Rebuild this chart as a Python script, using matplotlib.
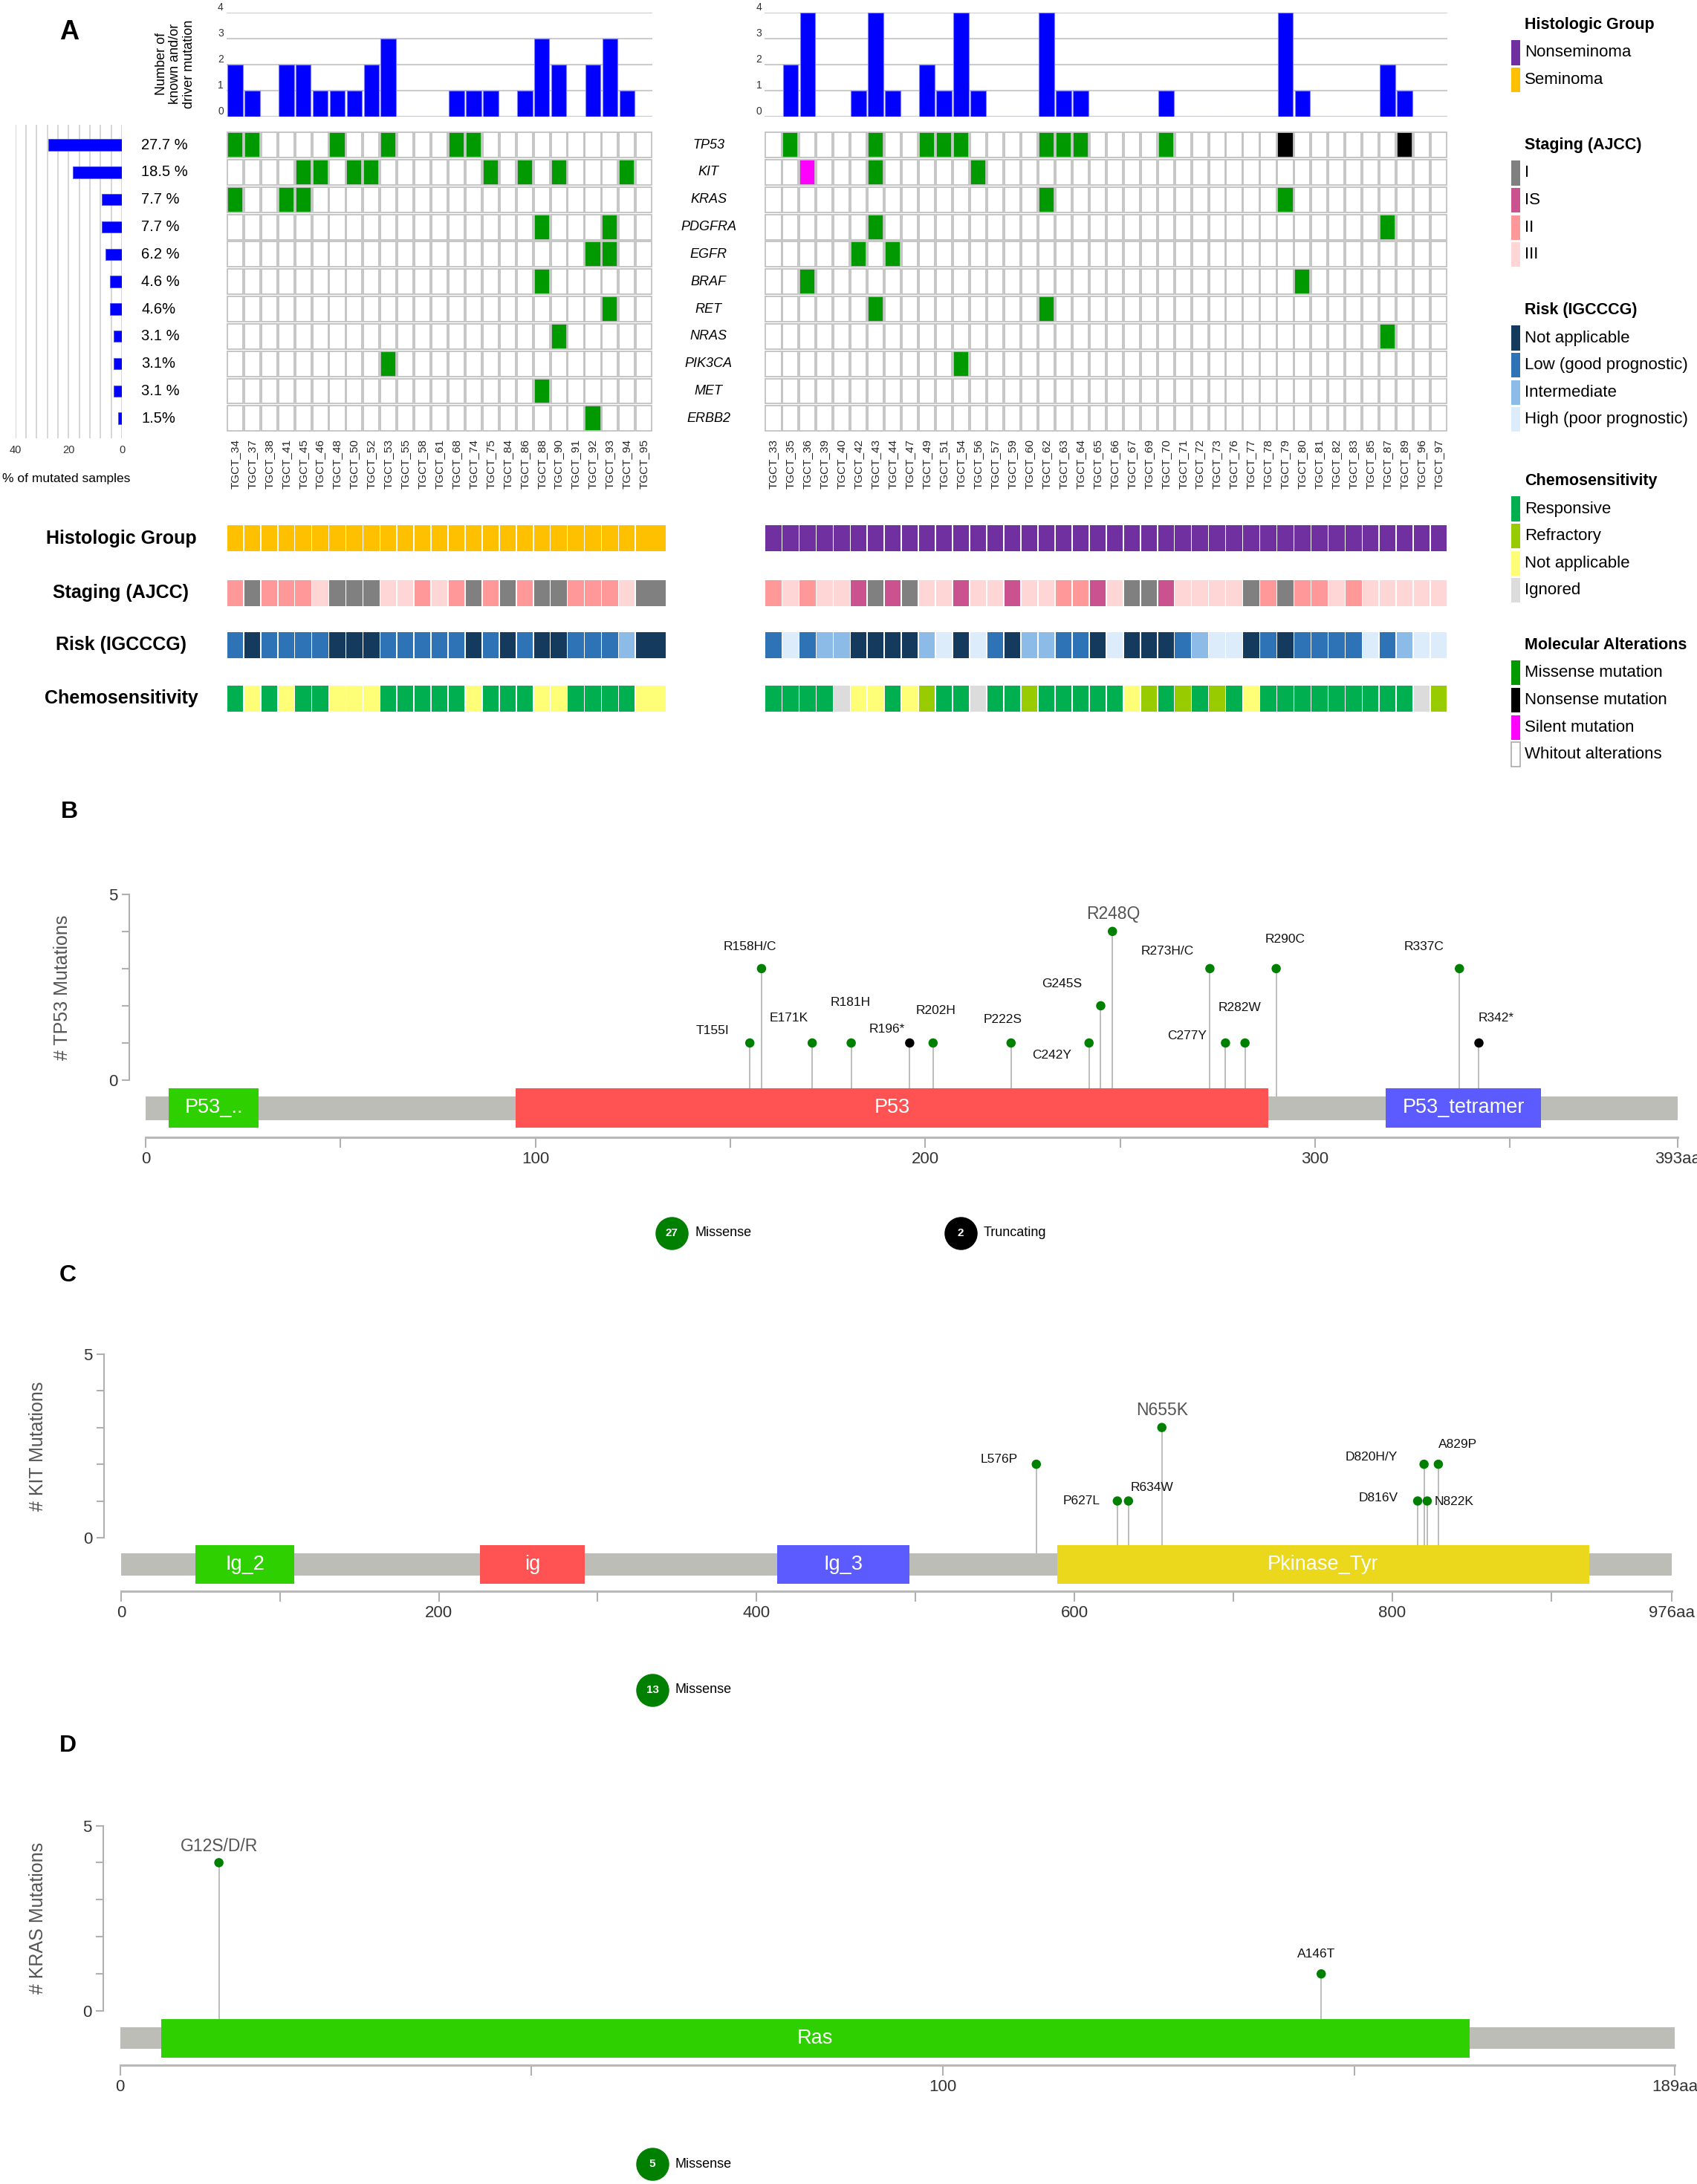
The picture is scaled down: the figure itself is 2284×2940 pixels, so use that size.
import numpy as np
import matplotlib
matplotlib.use("Agg")
import matplotlib.pyplot as plt
from matplotlib.patches import Rectangle
from matplotlib.lines import Line2D

plt.rcParams['font.family'] = ['Liberation Sans', 'DejaVu Sans']

# ============================ DATA ============================
seminoma_samples = ["TGCT_34", "TGCT_37", "TGCT_38", "TGCT_41", "TGCT_45", "TGCT_46", "TGCT_48",
                    "TGCT_50", "TGCT_52", "TGCT_53", "TGCT_55", "TGCT_58", "TGCT_61", "TGCT_68",
                    "TGCT_74", "TGCT_75", "TGCT_84", "TGCT_86", "TGCT_88", "TGCT_90", "TGCT_91",
                    "TGCT_92", "TGCT_93", "TGCT_94", "TGCT_95"]
nonseminoma_samples = ["TGCT_33", "TGCT_35", "TGCT_36", "TGCT_39", "TGCT_40", "TGCT_42", "TGCT_43",
                       "TGCT_44", "TGCT_47", "TGCT_49", "TGCT_51", "TGCT_54", "TGCT_56", "TGCT_57",
                       "TGCT_59", "TGCT_60", "TGCT_62", "TGCT_63", "TGCT_64", "TGCT_65", "TGCT_66",
                       "TGCT_67", "TGCT_69", "TGCT_70", "TGCT_71", "TGCT_72", "TGCT_73", "TGCT_76",
                       "TGCT_77", "TGCT_78", "TGCT_79", "TGCT_80", "TGCT_81", "TGCT_82", "TGCT_83",
                       "TGCT_85", "TGCT_87", "TGCT_89", "TGCT_96", "TGCT_97"]
genes = ["TP53", "KIT", "KRAS", "PDGFRA", "EGFR", "BRAF", "RET", "NRAS", "PIK3CA", "MET", "ERBB2"]
pct_mutated = [27.7, 18.5, 7.7, 7.7, 6.2, 4.6, 4.6, 3.1, 3.1, 3.1, 1.5]
pct_labels = ["27.7 %", "18.5 %", "7.7 %", "7.7 %", "6.2 %", "4.6 %", "4.6%", "3.1 %", "3.1%", "3.1 %", "1.5%"]

driver_counts_seminoma = [2, 1, 0, 2, 2, 1, 1, 1, 2, 3, 0, 0, 0, 1, 1, 1, 0, 1, 3, 2, 0, 2, 3, 1, 0]
driver_counts_nonseminoma = [0, 2, 4, 0, 0, 1, 4, 1, 0, 2, 1, 4, 1, 0, 0, 0, 4, 1, 1, 0,
                             0, 0, 0, 1, 0, 0, 0, 0, 0, 0, 4, 1, 0, 0, 0, 0, 2, 1, 0, 0]

missense_by_gene = {
    "TP53": ["TGCT_34", "TGCT_37", "TGCT_48", "TGCT_53", "TGCT_68", "TGCT_74", "TGCT_35", "TGCT_43",
             "TGCT_49", "TGCT_51", "TGCT_54", "TGCT_62", "TGCT_63", "TGCT_64", "TGCT_70"],
    "KIT": ["TGCT_45", "TGCT_46", "TGCT_50", "TGCT_52", "TGCT_75", "TGCT_86", "TGCT_90", "TGCT_94",
            "TGCT_43", "TGCT_56"],
    "KRAS": ["TGCT_34", "TGCT_41", "TGCT_45", "TGCT_62", "TGCT_79"],
    "PDGFRA": ["TGCT_88", "TGCT_93", "TGCT_43", "TGCT_87"],
    "EGFR": ["TGCT_92", "TGCT_93", "TGCT_42", "TGCT_44"],
    "BRAF": ["TGCT_88", "TGCT_36", "TGCT_80"],
    "RET": ["TGCT_93", "TGCT_43", "TGCT_62"],
    "NRAS": ["TGCT_90", "TGCT_87"],
    "PIK3CA": ["TGCT_53", "TGCT_54"],
    "MET": ["TGCT_88"],
    "ERBB2": ["TGCT_92"],
}
nonsense_by_gene = {"TP53": ["TGCT_79", "TGCT_89"]}
silent_by_gene = {"KIT": ["TGCT_36"]}

histology_seminoma = ["Seminoma"] * 25
histology_nonseminoma = ["Nonseminoma"] * 40
staging_seminoma = ["II", "I", "II", "II", "II", "III", "I", "I", "I", "III", "III", "II", "III",
                    "II", "I", "II", "I", "II", "I", "I", "II", "II", "II", "III", "I"]
staging_nonseminoma = ["II", "III", "II", "III", "III", "IS", "I", "IS", "I", "III",
                       "III", "IS", "III", "III", "IS", "III", "III", "II", "II", "IS",
                       "III", "I", "I", "IS", "III", "III", "III", "III", "I", "II",
                       "I", "II", "II", "III", "II", "III", "III", "III", "III", "III"]
risk_seminoma = ["Low", "NA", "Low", "Low", "Low", "Low", "NA", "NA", "NA", "Low", "Low", "Low", "Low",
                 "Low", "NA", "Low", "NA", "Low", "NA", "NA", "Low", "Low", "Low", "Int", "NA"]
risk_nonseminoma = ["Low", "High", "Low", "Int", "Int", "NA", "NA", "NA", "NA", "Int",
                    "High", "NA", "High", "Low", "NA", "Int", "Int", "Low", "Low", "NA",
                    "High", "NA", "NA", "NA", "Low", "Int", "High", "High", "NA", "Low",
                    "NA", "Low", "Low", "Low", "Low", "High", "Low", "Int", "High", "High"]
chemo_seminoma = ["Resp", "NA", "Resp", "NA", "Resp", "Resp", "NA", "NA", "NA", "Resp", "Resp", "Resp",
                  "Resp", "Resp", "NA", "Resp", "Resp", "Resp", "NA", "NA", "Resp", "Resp", "Resp",
                  "Resp", "NA"]
chemo_nonseminoma = ["Resp", "Resp", "Resp", "Resp", "Ign", "NA", "NA", "Resp", "NA", "Refr",
                     "Resp", "Resp", "Ign", "Resp", "Resp", "Refr", "Resp", "Resp", "Resp", "Resp",
                     "Resp", "NA", "Refr", "Resp", "Refr", "Resp", "Refr", "Resp", "NA", "Resp",
                     "Resp", "Resp", "Resp", "Resp", "Resp", "Resp", "Resp", "Resp", "Ign", "Refr"]

tp53_positions = [155, 158, 171, 181, 196, 202, 222, 242, 245, 248, 273, 277, 282, 290, 337, 342]
tp53_counts = [1, 3, 1, 1, 1, 1, 1, 1, 2, 4, 3, 1, 1, 3, 3, 1]
tp53_labels = ["T155I", "R158H/C", "E171K", "R181H", "R196*", "R202H", "P222S", "C242Y", "G245S",
               "R248Q", "R273H/C", "C277Y", "R282W", "R290C", "R337C", "R342*"]
tp53_types = ["Missense"] * 4 + ["Truncating"] + ["Missense"] * 10 + ["Truncating"]
tp53_domains = [("P53_..", 6, 29), ("P53", 95, 288), ("P53_tetramer", 318, 358)]
tp53_length = 393
tp53_legend = [("Missense", 27), ("Truncating", 2)]

kit_positions = [576, 627, 634, 655, 816, 820, 822, 829]
kit_counts = [2, 1, 1, 3, 1, 2, 1, 2]
kit_labels = ["L576P", "P627L", "R634W", "N655K", "D816V", "D820H/Y", "N822K", "A829P"]
kit_types = ["Missense"] * 8
kit_domains = [("Ig_2", 47, 109), ("ig", 226, 292), ("Ig_3", 413, 496), ("Pkinase_Tyr", 589, 924)]
kit_length = 976
kit_legend = [("Missense", 13)]

kras_positions = [12, 146]
kras_counts = [4, 1]
kras_labels = ["G12S/D/R", "A146T"]
kras_types = ["Missense", "Missense"]
kras_domains = [("Ras", 5, 164)]
kras_length = 189
kras_legend = [("Missense", 5)]

# ============================ STYLE ============================
HIST_COLORS = {"Nonseminoma": "#7030a0", "Seminoma": "#ffc000"}
STAGE_COLORS = {"I": "#808080", "IS": "#c9528f", "II": "#ff9999", "III": "#ffd6d6"}
RISK_COLORS = {"NA": "#143a5e", "Low": "#2e73b5", "Int": "#8dbbe7", "High": "#ddecfb"}
CHEMO_COLORS = {"Resp": "#00b050", "Refr": "#99cc00", "NA": "#ffff77", "Ign": "#dcdcdc"}
ALT_COLORS = {"Missense": "#009900", "Nonsense": "#000000", "Silent": "#ff00ff", "None": "#ffffff"}
TYPE_COLORS = {"Missense": "#008000", "Truncating": "#000000"}
DOMAIN_COLORS = {"P53_..": "#2ed000", "P53": "#ff5353", "P53_tetramer": "#5b5bff",
                 "Ig_2": "#2ed000", "ig": "#ff5353", "Ig_3": "#5b5bff", "Pkinase_Tyr": "#ebd81c",
                 "Ras": "#2ed000"}
GRID_GRAY = "#c2c2c2"
BAR_BLUE = "#0000ff"

FW, FH = 2284, 2940
S = 2284 / 1220.0

fig = plt.figure(figsize=(22.84, 29.40), dpi=100)


def fbox(x0, y0, x1, y1):
    return [x0 * S / FW, 1 - y1 * S / FH, (x1 - x0) * S / FW, (y1 - y0) * S / FH]


def fpt(x, y):
    return (x * S / FW, 1 - y * S / FH)


def ppt(x, y):
    return (x / FW, 1 - y / FH)


# ============================ PANEL A ============================
fig.text(*fpt(50, 23), "A", fontsize=26, fontweight='bold', ha='center', va='center')
fig.text(*fpt(126, 46), "Number of\nknown and/or\ndriver mutation", rotation=90, ha='center',
         va='center', fontsize=13, linespacing=1.12, multialignment='center')

GRID_TOP, GRID_BOT = 94.4, 310.7
groups = [
    (seminoma_samples, driver_counts_seminoma, 162.9, 469.1, 25.81,
     [histology_seminoma, staging_seminoma, risk_seminoma, chemo_seminoma]),
    (nonseminoma_samples, driver_counts_nonseminoma, 549.9, 1040.6, 40.0,
     [histology_nonseminoma, staging_nonseminoma, risk_nonseminoma, chemo_nonseminoma]),
]
track_names = ["Histologic Group", "Staging (AJCC)", "Risk (IGCCCG)", "Chemosensitivity"]
track_colors = [HIST_COLORS, STAGE_COLORS, RISK_COLORS, CHEMO_COLORS]
track_rows = [(377.8, 396.2), (417.2, 435.7), (454.6, 473.1), (493.0, 511.6)]

left_grid_ax = None
for gi, (samples, drivers, x0, x1, ann_units, tracks) in enumerate(groups):
    n = len(samples)
    cw = (x1 - x0) / n
    # top bars
    axb = fig.add_axes(fbox(x0, 9.3, x1, 84.0))
    axb.bar(np.arange(n) + 0.5, drivers, width=0.9, color=BAR_BLUE, edgecolor='#8080ff', lw=0.8, zorder=3)
    axb.set_xlim(0, n)
    axb.set_ylim(0, 4)
    axb.set_yticks(range(5))
    axb.yaxis.grid(True, color='#cccccc', lw=1.5)
    axb.set_axisbelow(True)
    axb.set_xticks([])
    for s in axb.spines.values():
        s.set_visible(False)
    axb.tick_params(axis='y', length=0, labelsize=10, labelcolor='#333333', pad=3)
    plt.setp(axb.get_yticklabels(), va='bottom')

    # mutation grid
    ax = fig.add_axes(fbox(x0, GRID_TOP, x1, GRID_BOT))
    ax.set_xlim(0, n)
    ax.set_ylim(len(genes), 0)
    for r, g in enumerate(genes):
        for c, s in enumerate(samples):
            kind = "None"
            if s in missense_by_gene.get(g, []):
                kind = "Missense"
            elif s in nonsense_by_gene.get(g, []):
                kind = "Nonsense"
            elif s in silent_by_gene.get(g, []):
                kind = "Silent"
            ax.add_patch(Rectangle((c + 0.04, r + 0.04), 0.92, 0.92, facecolor=ALT_COLORS[kind],
                                   edgecolor=GRID_GRAY, lw=1.3))
    ax.set_xticks(np.arange(n) + 0.5)
    ax.set_xticklabels(samples, rotation=90, fontsize=11, color='#222222')
    ax.set_yticks([])
    ax.tick_params(axis='x', length=0, pad=7)
    for s in ax.spines.values():
        s.set_visible(False)
    if gi == 0:
        left_grid_ax = ax

    # annotation tracks
    widths = [1.0] * n
    widths[-1] = ann_units - (n - 1)
    for ti, (vals, cmap, (ty0, ty1)) in enumerate(zip(tracks, track_colors, track_rows)):
        axt = fig.add_axes(fbox(x0, ty0, x0 + ann_units * cw, ty1))
        axt.set_xlim(0, ann_units)
        axt.set_ylim(0, 1)
        xs = 0.0
        for v, w in zip(vals, widths):
            axt.add_patch(Rectangle((xs + 0.035, 0), w - 0.07, 1, facecolor=cmap[v], edgecolor='none'))
            xs += w
        axt.axis('off')

for name, (ty0, ty1) in zip(track_names, track_rows):
    fig.text(*fpt(87, (ty0 + ty1) / 2), name, fontsize=18, fontweight='bold', ha='center', va='center')

# gene labels and percentages
for r, g in enumerate(genes):
    left_grid_ax.text(28.3, r + 0.5, g, fontsize=13, style='italic', ha='center', va='center',
                      clip_on=False)
    left_grid_ax.text(-5.0, r + 0.5, pct_labels[r], fontsize=14.5, ha='left', va='center',
                      clip_on=False)

# percent bar chart
axp = fig.add_axes(fbox(11, 90, 87.7, 315))
axp.barh(np.arange(len(genes)) + 0.5, pct_mutated, height=0.42, color=BAR_BLUE, edgecolor='#5050ff',
         lw=0.6, zorder=3)
axp.set_xlim(40, 0)
axp.set_ylim(len(genes) + 0.22, -0.22)
axp.set_xticks([40, 20, 0])
axp.set_xticks(np.arange(0, 41, 4), minor=True)
axp.grid(True, which='both', axis='x', color='#cfcfcf', lw=1.2)
axp.set_axisbelow(True)
axp.set_yticks([])
for s in axp.spines.values():
    s.set_visible(False)
axp.tick_params(axis='x', which='both', length=0, labelsize=10.5, labelcolor='#333333', pad=7)
fig.text(*fpt(47.7, 344.5), "% of mutated samples", ha='center', va='center', fontsize=12.5)

# legend
legend_sections = [
    ("Histologic Group", [("Nonseminoma", HIST_COLORS["Nonseminoma"]), ("Seminoma", HIST_COLORS["Seminoma"])]),
    ("Staging (AJCC)", [("I", STAGE_COLORS["I"]), ("IS", STAGE_COLORS["IS"]), ("II", STAGE_COLORS["II"]),
                        ("III", STAGE_COLORS["III"])]),
    ("Risk (IGCCCG)", [("Not applicable", RISK_COLORS["NA"]), ("Low (good prognostic)", RISK_COLORS["Low"]),
                       ("Intermediate", RISK_COLORS["Int"]), ("High (poor prognostic)", RISK_COLORS["High"])]),
    ("Chemosensitivity", [("Responsive", CHEMO_COLORS["Resp"]), ("Refractory", CHEMO_COLORS["Refr"]),
                          ("Not applicable", CHEMO_COLORS["NA"]), ("Ignored", CHEMO_COLORS["Ign"])]),
    ("Molecular Alterations", [("Missense mutation", ALT_COLORS["Missense"]),
                               ("Nonsense mutation", ALT_COLORS["Nonsense"]),
                               ("Silent mutation", ALT_COLORS["Silent"]),
                               ("Whitout alterations", ALT_COLORS["None"])]),
]
legend_title_y = [34, 196, 418, 648, 869]
for (title, items), ty in zip(legend_sections, legend_title_y):
    fig.text(*ppt(2052, ty), title, fontsize=15.5, fontweight='bold', ha='left', va='center')
    for i, (lab, col) in enumerate(items):
        yc = ty + 37 + i * 36.6
        fx, fy = ppt(2034, yc + 16.5)
        edge = '#aaaaaa' if col == '#ffffff' else 'none'
        fig.add_artist(Rectangle((fx, fy), 12 / FW, 33 / FH, facecolor=col, edgecolor=edge, lw=1.2,
                                 transform=fig.transFigure))
        fig.text(*ppt(2052, yc), lab, fontsize=16, ha='left', va='center')


# ============================ LOLLIPOPS ============================
def lollipop(box, xlim, ylim, length, positions, counts, labels, types, offsets, domains,
             yaxis_x, xmajor, xmajor_labels, xminor, bb, dom):
    ax = fig.add_axes(fbox(*box))
    ax.set_xlim(*xlim)
    ax.set_ylim(*ylim)
    ax.add_patch(Rectangle((0, bb[0]), length, bb[1] - bb[0], facecolor='#bdbdb7', edgecolor='none', zorder=2))
    for name, s, e in domains:
        ax.add_patch(Rectangle((s, dom[0]), e - s, dom[1] - dom[0], facecolor=DOMAIN_COLORS[name],
                               edgecolor='none', zorder=3))
        ax.text((s + e) / 2, (dom[0] + dom[1]) / 2, name, color='white', fontsize=19.5,
                ha='center', va='center', zorder=4)
    ax.vlines(positions, bb[1], counts, color='#b8b8b8', lw=1.3, zorder=1)
    ax.scatter(positions, counts, s=9 ** 2, c=[TYPE_COLORS[t] for t in types], zorder=5,
               edgecolors='none')
    big = int(np.argmax(counts))
    for i, (x, y, lab) in enumerate(zip(positions, counts, labels)):
        dx, dy = offsets[i]
        fs, col = (16.5, '#555555') if i == big else (12.5, '#111111')
        ax.annotate(lab, (x, y), xytext=(dx, dy), textcoords='offset points', ha='center',
                    va='center', fontsize=fs, color=col, zorder=6)
    for sp in ('top', 'right'):
        ax.spines[sp].set_visible(False)
    ax.spines['left'].set_position(('data', yaxis_x))
    ax.spines['left'].set_bounds(0, 5)
    ax.spines['left'].set_color('#b0b0b0')
    ax.spines['left'].set_linewidth(1.5)
    ax.spines['bottom'].set_bounds(0, length)
    ax.spines['bottom'].set_color('#b8b8b8')
    ax.spines['bottom'].set_linewidth(2.2)
    ax.set_yticks(range(6))
    ax.set_yticklabels(['0', '', '', '', '', '5'])
    ax.tick_params(axis='y', length=7, width=1.5, color='#b0b0b0', labelsize=16, labelcolor='#333333', pad=4)
    ax.set_xticks(xmajor)
    ax.set_xticklabels(xmajor_labels)
    ax.set_xticks(xminor, minor=True)
    ax.tick_params(axis='x', which='both', length=10, width=1.5, color='#b0b0b0', labelsize=16,
                   labelcolor='#333333', pad=4)
    return ax


def count_legend(xc, yc, n, label):
    fx, fy = fpt(xc, yc)
    col = TYPE_COLORS[label]
    fig.add_artist(Line2D([fx], [fy], marker='o', ms=31, color=col, transform=fig.transFigure))
    fig.text(fx, fy, str(n), color='white', fontsize=11, fontweight='bold', ha='center', va='center')
    fig.text(*fpt(xc + 16.5, yc), label, fontsize=13, ha='left', va='center')


# --- Panel B: TP53 ---
fig.text(*fpt(50, 584), "B", fontsize=23, fontweight='bold', ha='center', va='center')
tp53_offsets = [(-36, 12), (-11, 21), (-23, 24), (-1, 39), (-22, 13), (3, 31), (-8, 23), (-36, -12),
                (-38, 21), (1, 17), (-41, 17), (-37, 7), (-5, 34), (9, 28), (-34, 21), (17, 24)]
lollipop((60, 777 - 5.2 * 26.8, 1220, 817.6),
         ((60 - 104.6) / 2.803, (1220 - 104.6) / 2.803), (-1.53, 5.2), tp53_length,
         tp53_positions, tp53_counts, tp53_labels, tp53_types, tp53_offsets, tp53_domains,
         -4.2, [0, 100, 200, 300, 393], ['0', '100', '200', '300', '393aa'], [50, 150, 250, 350],
         (-1.07, -0.44), (-1.27, -0.21))
fig.text(*fpt(45, 710), "# TP53 Mutations", rotation=90, fontsize=18, color='#555555', ha='center', va='center')
count_legend(483, 886.5, tp53_legend[0][1], tp53_legend[0][0])
count_legend(690.5, 886.5, tp53_legend[1][1], tp53_legend[1][0])

# --- Panel C: KIT ---
fig.text(*fpt(49, 917), "C", fontsize=23, fontweight='bold', ha='center', va='center')
kit_offsets = [(-36, 5), (-35, 0), (23, 13), (0, 17), (-38, 3), (-51, 7), (26, -1), (19, 19)]
lollipop((40, 1105.6 - 5.2 * 26.4, 1220, 1144),
         ((40 - 87) / 1.1424, (1220 - 87) / 1.1424), (-1.45, 5.2), kit_length,
         kit_positions, kit_counts, kit_labels, kit_types, kit_offsets, kit_domains,
         -10.9, [0, 200, 400, 600, 800, 976], ['0', '200', '400', '600', '800', '976aa'],
         [100, 300, 500, 700, 900], (-1.04, -0.43), (-1.25, -0.2))
fig.text(*fpt(27, 1040), "# KIT Mutations", rotation=90, fontsize=18, color='#555555', ha='center', va='center')
count_legend(469, 1215, kit_legend[0][1], kit_legend[0][0])

# --- Panel D: KRAS ---
fig.text(*fpt(49, 1255.5), "D", fontsize=23, fontweight='bold', ha='center', va='center')
kras_offsets = [(0, 16), (-5, 19)]
lollipop((40, 1446 - 5.2 * 26.66, 1220, 1484.9),
         ((40 - 86.4) / 5.914, (1220 - 86.4) / 5.914), (-1.46, 5.2), kras_length,
         kras_positions, kras_counts, kras_labels, kras_types, kras_offsets, kras_domains,
         -2.1, [0, 100, 189], ['0', '100', '189aa'], [50, 150],
         (-1.02, -0.43), (-1.26, -0.21))
fig.text(*fpt(27, 1379), "# KRAS Mutations", rotation=90, fontsize=18, color='#555555', ha='center', va='center')
count_legend(469, 1556, kras_legend[0][1], kras_legend[0][0])

fig.savefig("out.png", dpi=100, facecolor='white')
